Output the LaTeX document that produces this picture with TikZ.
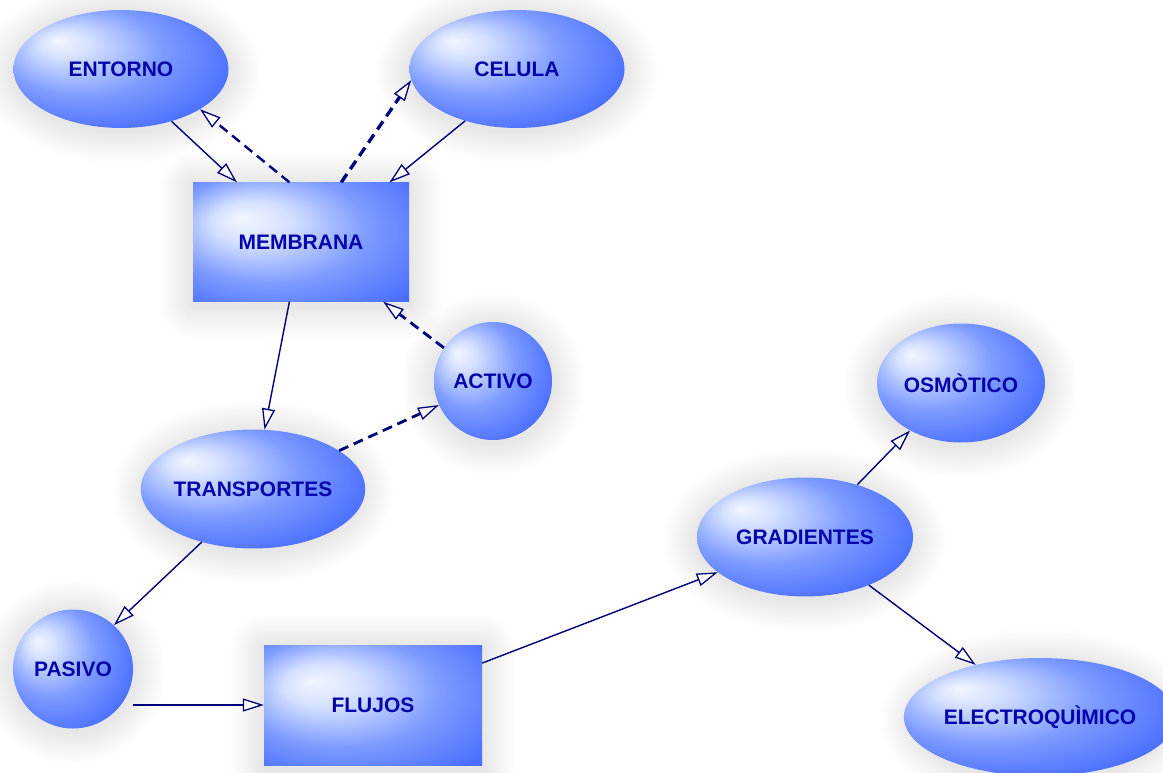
\documentclass[tikz,border=0pt]{standalone}
\usepackage{fontspec}
\setmainfont{Liberation Sans}
\usetikzlibrary{arrows.meta,shapes.geometric}
\definecolor{nodeblue}{RGB}{50,92,255}
\definecolor{nodewhite}{RGB}{242,246,255}
\definecolor{nodelite}{RGB}{212,224,255}
\definecolor{nodemid}{RGB}{125,155,255}
\definecolor{nodedeep}{RGB}{76,112,255}
\definecolor{txtblue}{RGB}{5,5,172}
\definecolor{linenavy}{RGB}{0,0,120}
\pgfdeclareradialshading{ellglow}{\pgfpoint{-15bp}{12bp}}{color(0bp)=(nodewhite); color(6bp)=(nodelite); color(19bp)=(nodemid); color(32bp)=(nodedeep); color(46bp)=(nodeblue); color(50bp)=(nodeblue)}
\pgfdeclareradialshading{rectglow}{\pgfpoint{-14bp}{10bp}}{color(0bp)=(nodewhite); color(9bp)=(nodelite); color(23bp)=(nodemid); color(37bp)=(nodedeep); color(48bp)=(nodeblue); color(50bp)=(nodeblue)}
\pgfdeclarelayer{bg}
\pgfdeclarelayer{glow}
\pgfsetlayers{bg,glow,main}
\tikzset{
  conc/.style={draw=none, inner sep=0pt, text=txtblue,
    font=\fontsize{21}{24}\selectfont\bfseries},
  ell/.style={conc, ellipse, shade, shading=ellglow},
  box/.style={conc, rectangle, shade, shading=rectglow},
  halo/.style={fill=black, fill opacity=0.009},
  link/.style={draw=linenavy, line width=1.4pt,
    -{Triangle[open, fill=white, length=21pt, width=13pt, line width=1.3pt]}},
  dlink/.style={link, line width=2.8pt, dash pattern=on 10pt off 6pt}
}
\newcommand\ellhalo[3]{%
  \foreach \k in {1,...,12}{\fill[halo] ([yshift=-3pt]#1.center) ellipse [x radius={#2+2.7*\k}, y radius={#3+2.7*\k}];}}
\newcommand\boxhalo[1]{%
  \foreach \k in {1,...,12}{\pgfmathsetmacro\rr{2.7*\k}
    \fill[halo, rounded corners=\rr pt] ([shift={(-\rr,-\rr+3)}]#1.north west) rectangle ([shift={(\rr,\rr+3)}]#1.south east);}}
\begin{document}
\begin{tikzpicture}[x=1pt,y=-1pt]
\useasboundingbox (0,0) rectangle (1163,773);
\begin{pgfonlayer}{bg}
\fill[white] (0,0) rectangle (1163,773);
\end{pgfonlayer}
\node[ell, minimum width=215pt, minimum height=118pt] (entorno) at (121,69) {ENTORNO};
\node[ell, minimum width=215pt, minimum height=118pt] (celula) at (517,69) {CELULA};
\node[box, minimum width=216pt, minimum height=119pt] (membrana) at (301,242) {MEMBRANA};
\node[ell, minimum width=118pt, minimum height=118pt] (activo) at (493,381) {ACTIVO};
\node[ell, minimum width=215pt, minimum height=119pt] (transportes) at (253,489) {TRANSPORTES};
\node[ell, minimum width=120pt, minimum height=119pt] (pasivo) at (73,669) {PASIVO};
\node[box, minimum width=218pt, minimum height=120pt] (flujos) at (373,705) {FLUJOS};
\node[ell, minimum width=216pt, minimum height=119pt] (gradientes) at (805,537) {GRADIENTES};
\node[ell, minimum width=168pt, minimum height=119pt] (osmotico) at (961,383) {OSMÒTICO};
\node[ell, minimum width=252pt, minimum height=118pt] (electro) at (1040,717) {ELECTROQUÌMICO};

\begin{pgfonlayer}{glow}
\ellhalo{entorno}{107.5}{59}
\ellhalo{celula}{107.5}{59}
\ellhalo{activo}{59}{59}
\ellhalo{transportes}{107.5}{59.5}
\ellhalo{pasivo}{60}{59.5}
\ellhalo{gradientes}{108}{59.5}
\ellhalo{osmotico}{84}{59.5}
\ellhalo{electro}{126}{59}
\boxhalo{membrana}
\boxhalo{flujos}
\end{pgfonlayer}

\draw[link] (entorno.-46) -- (membrana.137);
\draw[dlink, line width=2.4pt] (membrana.101) -- (entorno.-27);
\draw[dlink, line width=3.3pt] (membrana.56) -- (celula.186);
\draw[link] (celula.-135) -- (membrana.34);
\draw[link] (membrana.-101) -- (transportes.79);
\draw[dlink] (activo.146) -- (membrana.-36);
\draw[dlink] (transportes.24) -- (activo.-156);
\draw[link] (transportes.-134) -- (pasivo.47);
\draw[link] (pasivo.east |- flujos.west) -- (flujos.west);
\draw[link] (flujos.21) -- (gradientes.-158);
\draw[link] (gradientes.45) -- (osmotico.-137);
\draw[link] (gradientes.-37) -- (electro.141);
\end{tikzpicture}
\end{document}
